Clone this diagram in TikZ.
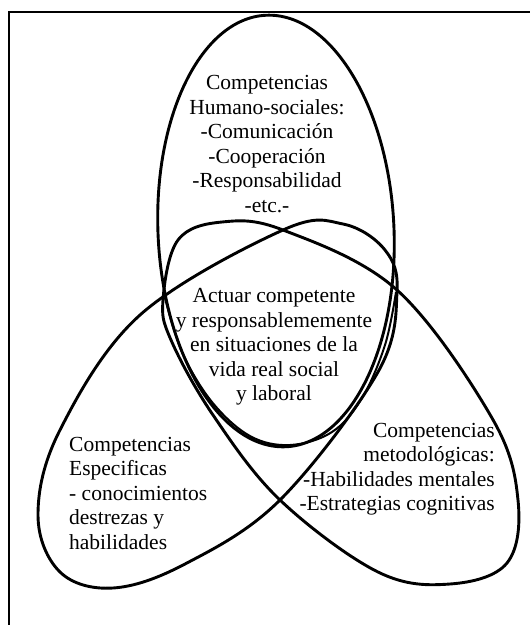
\documentclass[tikz,border=0pt]{standalone}
\usepackage{fontspec}
\setmainfont{Liberation Serif}
\begin{document}
\begin{tikzpicture}[x=1pt,y=-1pt,
  outline/.style={line width=2.9pt,line join=round},
  frameline/.style={line width=1.7pt},
  lbl/.style={inner sep=0pt,font=\fontsize{21.5}{24.5}\selectfont}]
\useasboundingbox (0,0) rectangle (530,625);
% frame
\draw[frameline] (9,625) -- (9,12) -- (531,12);
% top ellipse
\draw[outline,rotate around={2.65:(276,231)}] (276,231) ellipse [x radius=118, y radius=216];
% left teardrop
\draw[outline] plot[smooth cycle,tension=0.6] coordinates {
 (397,292) (378,372) (280,500) (185,564) (113,588) (60,572) (38,515)
 (60,430) (140,315) (283,230) (343,224) (385,250)};
% right teardrop
\draw[outline] plot[smooth cycle,tension=0.6] coordinates {
 (163,300) (178,240) (222,222) (283,230) (397,290) (492,418) (518,500)
 (507,563) (450,584) (378,572) (280,500) (213,415) (171,340)};
% inner freeform
\draw[line width=2pt] plot[smooth,tension=0.6] coordinates {
 (165,298) (182,352) (212,402) (250,436) (290,445) (332,432) (362,398) (385,345) (396,292)};
% texts
\node[lbl,align=center] (hum) at (267,144) {Competencias\\Humano-sociales:\\-Comunicación\\-Cooperación\\-Responsabilidad\\-etc.-};
\node[lbl,align=center] (act) at (274,347) {Actuar competente\\y responsablememente\\en situaciones de la\\vida real social\\y laboral};
\node[lbl,align=left,anchor=west] (esp) at (69,493) {Competencias\\Especificas\\- conocimientos\\destrezas y\\habilidades};
\node[lbl,align=right,anchor=east] (met) at (495,469) {Competencias\\metodológicas:\\-Habilidades mentales\\-Estrategias cognitivas};
\end{tikzpicture}
\end{document}
